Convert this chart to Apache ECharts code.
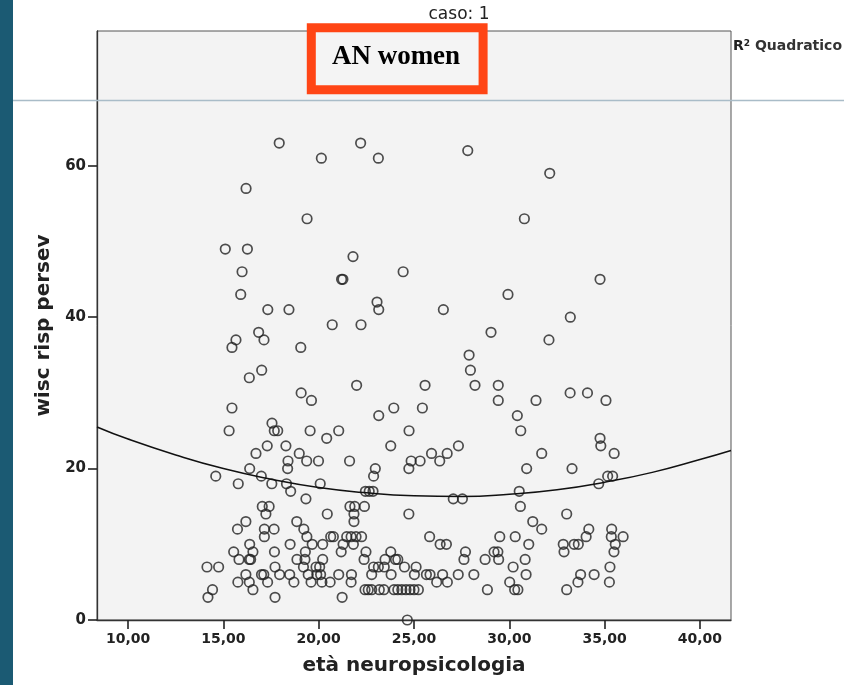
<!DOCTYPE html>
<html>
<head>
<meta charset="utf-8">
<script src="https://cdn.jsdelivr.net/npm/echarts@6/dist/echarts.min.js"></script>
<style>html,body{margin:0;padding:0;background:#fff;}#c{width:844px;height:685px;}</style>
</head>
<body>
<div id="c"></div>
<script>
// ---- data ----
const xTicks = [10, 15, 20, 25, 30, 35, 40];
const yTicks = [0, 20, 40, 60];
// wisc risp persev score levels and ages (età neuropsicologia) of subjects at each level
const scoreLevels = [63, 62, 61, 59, 57, 53, 49, 48, 46, 45, 43, 42, 41, 40, 39, 38, 37, 36, 35, 33, 32, 31, 30, 29, 28, 27, 26, 25, 24, 23, 22, 21, 20, 19, 18, 17, 16, 15, 14, 13, 12, 11, 10, 9, 8, 7, 6, 5, 4, 3, 0];
const agesPerLevel = [
  [17.93, 22.20],
  [27.82],
  [20.14, 23.13],
  [32.12],
  [16.19],
  [19.39, 30.79],
  [15.10, 16.26],
  [21.80],
  [15.98, 24.43],
  [21.20, 21.27, 34.76],
  [15.91, 29.93],
  [23.06],
  [17.33, 18.44, 23.15, 26.54],
  [33.20],
  [20.71, 22.22],
  [16.85, 29.04],
  [15.66, 17.13, 32.08],
  [15.45, 19.06],
  [27.89],
  [17.01, 27.96],
  [16.36],
  [21.99, 25.58, 28.20, 29.42],
  [19.08, 33.19, 34.10],
  [19.62, 29.42, 31.40, 35.07],
  [15.45, 23.94, 25.44],
  [23.15, 30.42],
  [17.55],
  [15.30, 17.67, 17.85, 19.55, 21.05, 24.74, 30.60],
  [20.42, 34.76],
  [17.30, 18.28, 23.78, 27.33, 34.80],
  [16.71, 18.98, 25.92, 26.74, 31.70, 35.50],
  [18.39, 19.37, 19.99, 21.62, 24.85, 25.32, 26.35],
  [16.38, 18.37, 22.97, 24.73, 30.91, 33.29],
  [14.60, 16.99, 22.88, 35.16, 35.42],
  [15.78, 17.54, 18.31, 20.08, 34.69],
  [18.53, 22.45, 22.65, 22.85, 30.52],
  [19.33, 27.06, 27.54],
  [17.04, 17.40, 21.64, 21.89, 22.40, 30.58],
  [17.23, 20.45, 21.85, 24.73, 33.01],
  [16.18, 18.85, 21.85, 31.23],
  [15.74, 17.15, 17.66, 19.22, 31.70, 34.17, 35.37],
  [17.15, 19.38, 20.63, 20.77, 21.47, 21.70, 21.96, 22.25, 25.82, 29.50, 30.31, 34.03, 35.35, 35.97],
  [16.38, 18.50, 19.66, 20.21, 21.28, 21.82, 26.37, 26.70, 31.02, 32.83, 33.40, 33.62, 35.56],
  [15.54, 16.55, 17.68, 19.30, 21.18, 22.48, 23.78, 27.70, 29.20, 29.40, 32.87, 35.49],
  [15.82, 16.36, 16.43, 18.86, 19.28, 20.21, 22.38, 23.48, 24.03, 24.15, 27.62, 28.73, 29.44, 30.83],
  [14.14, 14.75, 17.71, 19.20, 19.86, 20.05, 22.88, 23.13, 23.44, 24.50, 25.11, 30.20, 35.28],
  [16.18, 17.00, 17.12, 17.95, 18.48, 19.45, 19.90, 20.10, 21.05, 21.72, 22.78, 23.80, 25.02, 25.65, 25.84, 26.50, 27.32, 28.14, 30.88, 33.74, 34.45],
  [15.76, 16.36, 17.32, 18.70, 19.60, 20.17, 20.60, 21.70, 26.19, 26.75, 30.02, 33.60, 35.25],
  [14.43, 16.55, 22.43, 22.60, 22.78, 23.18, 23.42, 23.95, 24.15, 24.36, 24.58, 24.79, 25.00, 25.23, 28.85, 30.28, 30.45, 33.01],
  [14.19, 17.71, 21.23],
  [24.65]
];
// quadratic fit line (R² Quadratico)
const fitAge  = [8.37, 10, 12.5, 15, 17.5, 20, 22.5, 25, 27.5, 30, 32.5, 35, 37.5, 40, 41.63];
const fitWisc = [25.5, 23.9, 21.8, 20.0, 18.6, 17.5, 16.8, 16.4, 16.3, 16.6, 17.2, 18.2, 19.5, 21.2, 22.4];

// ---- build ----
const scatterData = [];
scoreLevels.forEach((s, i) => agesPerLevel[i].forEach(a => scatterData.push([a, s])));
const fitData = fitAge.map((a, i) => [a, fitWisc[i]]);

const chart = echarts.init(document.getElementById('c'), null, {renderer: 'canvas'});
const FONT = 'DejaVu Sans';
chart.setOption({
  animation: false,
  backgroundColor: '#ffffff',
  grid: {
    left: 97, top: 31, right: 113, bottom: 65,
    show: true, backgroundColor: '#f3f3f3', borderColor: '#555', borderWidth: 1
  },
  xAxis: {
    type: 'value', min: 8.37, max: 41.63,
    splitLine: {show: false},
    axisLine: {onZero: false, lineStyle: {color: '#333', width: 1.3}},
    axisTick: {show: true, length: 9, customValues: xTicks, lineStyle: {color: '#222', width: 1.6}},
    axisLabel: {customValues: xTicks, formatter: v => v.toFixed(2).replace('.', ','),
      fontFamily: FONT, fontWeight: 'bold', fontSize: 14, color: '#222', margin: 12},
    name: 'età neuropsicologia', nameLocation: 'middle', nameGap: 36,
    nameTextStyle: {fontFamily: FONT, fontWeight: 'bold', fontSize: 20, color: '#222'}
  },
  yAxis: {
    type: 'value', min: 0, max: 77.8,
    splitLine: {show: false},
    axisLine: {onZero: false, lineStyle: {color: '#333', width: 1.3}},
    axisTick: {show: true, length: 9, customValues: yTicks, lineStyle: {color: '#222', width: 1.6}},
    axisLabel: {customValues: yTicks, fontFamily: FONT, fontWeight: 'bold', fontSize: 15, color: '#222', margin: 11},
    name: 'wisc risp persev', nameLocation: 'middle', nameGap: 37, nameRotate: 90,
    nameTextStyle: {fontFamily: FONT, fontWeight: 'bold', fontSize: 20, color: '#222'}
  },
  series: [
    {
      type: 'scatter', data: scatterData, symbol: 'circle', symbolSize: 9.5,
      itemStyle: {color: 'rgba(0,0,0,0)', borderColor: '#222', borderWidth: 1.7},
      clip: true, z: 3
    },
    {
      type: 'line', data: fitData, smooth: true, symbol: 'none', clip: true,
      lineStyle: {color: '#111', width: 1.5}, z: 4
    }
  ],
  graphic: [
    {type: 'rect', left: 0, top: 0, shape: {width: 13, height: 685}, style: {fill: '#1b5a73'}, z: 10},
    {type: 'line', shape: {x1: 13, y1: 100.5, x2: 844, y2: 100.5}, style: {stroke: '#a9bcc8', lineWidth: 1.5}, z: 10},
    {type: 'rect', shape: {x: 311.3, y: 27.8, width: 171.8, height: 62}, style: {fill: '#f4f4f4', stroke: '#ff4515', lineWidth: 9}, z: 11},
    {type: 'text', x: 396, y: 57, style: {text: 'AN women', font: 'bold 27px "Liberation Serif", "Times New Roman", serif', fill: '#000', textAlign: 'center', textVerticalAlign: 'middle'}, z: 12},
    {type: 'text', x: 459, y: 15, style: {text: 'caso: 1', font: '17px "DejaVu Sans"', fill: '#222', textAlign: 'center', textVerticalAlign: 'middle'}, z: 12},
    {type: 'text', x: 733, y: 46, style: {
      text: '{r|R}{s|2}{q| Quadratico}', textVerticalAlign: 'middle', textAlign: 'left',
      rich: {
        r: {fontFamily: FONT, fontWeight: 'bold', fontSize: 14, fill: '#222', color: '#222'},
        s: {fontFamily: FONT, fontWeight: 'bold', fontSize: 9, fill: '#222', color: '#222', verticalAlign: 'top'},
        q: {fontFamily: FONT, fontWeight: 'bold', fontSize: 14, fill: '#333', color: '#333'}
      }}, z: 12}
  ]
});
</script>
</body>
</html>
